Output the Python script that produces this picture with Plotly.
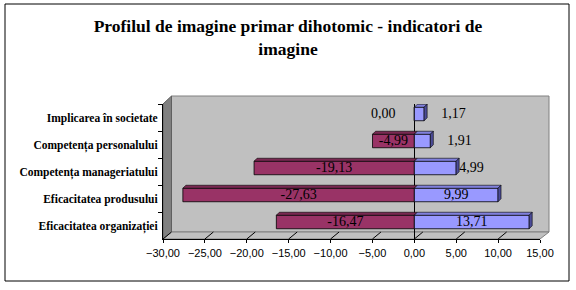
import plotly.graph_objects as go

# ---- data ----
categories = ["Eficacitatea organizației", "Eficacitatea produsului",
              "Competența manageriatului", "Competența personalului",
              "Implicarea în societate"]
neg_values = [-16.47, -27.63, -19.13, -4.99, 0.00]
pos_values = [13.71, 9.99, 4.99, 1.91, 1.17]
x_ticks = [-30, -25, -20, -15, -10, -5, 0, 5, 10, 15]
back_grid = [-25, -20, -15, -10, -5, 5, 10]
title_text = "Profilul de imagine primar dihotomic - indicatori de<br>imagine"

# ---- geometry helpers (pixel -> paper) ----
W, H = 576, 290
def px(x):
    return x / W
def py(y):
    return 1 - y / H

# front plane and back wall (pixels)
FX0, FX1, FY0, FY1 = 163, 540, 104, 239
BX0, BX1, BY0, BY1 = 171.5, 549, 96, 232
XMIN, XMAX = -30, 15

ux = (FX1 - FX0) / (XMAX - XMIN)          # px per unit on front axis
uy = (FY1 - FY0) / len(categories)        # px per category
DX = 3 / ux                               # bar depth in x units
DY = 3 / uy                               # bar depth in category units
BW = 0.5
BOFF = -0.12

NEG_FACE = "#993366"
NEG_TOP = "#7a2952"
POS_FACE = "#9999ff"
POS_TOP = "#8080dd"
POS_SIDE = "#4c4c99"
LABEL_FONT = dict(family="Liberation Serif", size=14, color="#000000")

fig = go.Figure()

NB = "\u00a0"
fig.add_trace(go.Bar(
    y=categories, x=neg_values, orientation="h", name="Negativ",
    xaxis="x2", yaxis="y2",
    width=BW, offset=BOFF,
    marker=dict(color=NEG_FACE, line=dict(color="#000000", width=0.8)),
    texttemplate="%{x:.2f}",
    textposition=["inside", "inside", "inside", "inside", "none"],
    insidetextanchor="middle", constraintext="none", cliponaxis=False,
    textfont=LABEL_FONT,
    hoverinfo="x+y",
))
fig.add_trace(go.Bar(
    y=categories, x=pos_values, orientation="h", name="Pozitiv",
    xaxis="x2", yaxis="y2",
    width=BW, offset=BOFF,
    marker=dict(color=POS_FACE, line=dict(color="#000000", width=0.8)),
    texttemplate=["%{x:.2f}", "%{x:.2f}", "%{x:.2f}",
                  NB * 4 + "%{x:.2f}", NB * 4 + "%{x:.2f}"],
    textposition=["inside", "inside", "outside", "outside", "outside"],
    insidetextanchor="middle", constraintext="none", cliponaxis=False,
    textfont=LABEL_FONT,
    hoverinfo="x+y",
))

# label for the zero-length negative bar (placed to its left, as in Excel)
annotations = []
for i, nv in enumerate(neg_values):
    if nv == 0:
        annotations.append(dict(x=nv, y=i + BOFF + BW / 2, xref="x2", yref="y2",
                                text=f"{nv:.2f}".replace(".", ","), showarrow=False,
                                xanchor="right", xshift=-16, font=LABEL_FONT))

shapes = []
# chart frame
shapes.append(dict(type="rect", xref="paper", yref="paper",
                   x0=px(5), x1=px(569), y0=py(281), y1=py(4),
                   line=dict(color="#000000", width=1), layer="below"))
# back wall
shapes.append(dict(type="rect", xref="paper", yref="paper",
                   x0=px(BX0), x1=px(BX1), y0=py(BY1), y1=py(BY0),
                   fillcolor="#c0c0c0", line=dict(color="#808080", width=1),
                   layer="below"))
# left wall
shapes.append(dict(type="path", xref="paper", yref="paper",
                   path=f"M{px(FX0)},{py(FY0)} L{px(BX0)},{py(BY0)} "
                        f"L{px(BX0)},{py(BY1)} L{px(FX0)},{py(FY1)} Z",
                   fillcolor="#808080", line=dict(color="#606060", width=1),
                   layer="below"))
# floor
shapes.append(dict(type="path", xref="paper", yref="paper",
                   path=f"M{px(FX0)},{py(FY1)} L{px(BX0)},{py(BY1)} "
                        f"L{px(BX1)},{py(BY1)} L{px(FX1)},{py(FY1)} Z",
                   fillcolor="#c0c0c0", line=dict(color="#808080", width=1),
                   layer="below"))
# floor diagonals at tick values
for v in x_ticks:
    shapes.append(dict(type="line", xref="x2", yref="paper",
                       x0=v, y0=py(FY1), x1=v + 8.5 / ux, y1=py(BY1),
                       line=dict(color="#000000", width=1), layer="above"))

# 3D faces of bars (computed from data values)
for i, (nv, pv) in enumerate(zip(neg_values, pos_values)):
    yb = i + BOFF
    yt = i + BOFF + BW
    if nv < 0:
        shapes.append(dict(type="path", xref="x2", yref="y2",
                           path=f"M{nv},{yt} L{nv + DX},{yt + DY} L{DX},{yt + DY} L0,{yt} Z",
                           fillcolor=NEG_TOP, line=dict(color="#000000", width=0.6),
                           layer="above"))
    shapes.append(dict(type="path", xref="x2", yref="y2",
                       path=f"M0,{yt} L{DX},{yt + DY} L{pv + DX},{yt + DY} L{pv},{yt} Z",
                       fillcolor=POS_TOP, line=dict(color="#000000", width=0.6),
                       layer="above"))
    shapes.append(dict(type="path", xref="x2", yref="y2",
                       path=f"M{pv},{yt} L{pv + DX},{yt + DY} L{pv + DX},{yb + DY} L{pv},{yb} Z",
                       fillcolor=POS_SIDE, line=dict(color="#000000", width=0.6),
                       layer="above"))

fig.update_layout(
    width=W, height=H, autosize=False,
    margin=dict(l=0, r=0, t=0, b=0, pad=0),
    paper_bgcolor="#ffffff", plot_bgcolor="rgba(0,0,0,0)",
    separators=", ",
    barmode="overlay",
    showlegend=False,
    title=dict(text=title_text, x=0.5, xanchor="center", xref="paper",
               y=py(32), yanchor="top", yref="paper", automargin=False,
               font=dict(family="Liberation Serif", size=17.5, color="#000000",
                         weight="bold")),
    xaxis=dict(domain=[px(BX0), px(BX1)], range=[XMIN, XMAX], anchor="y",
               tickvals=back_grid, showticklabels=False, ticks="",
               showgrid=True, gridcolor="#000000", gridwidth=1,
               zeroline=False, showline=False, fixedrange=True, automargin=False),
    yaxis=dict(domain=[py(BY1), py(BY0)], range=[0, 1], anchor="x",
               showticklabels=False, showgrid=False, zeroline=False,
               showline=False, ticks="", fixedrange=True, automargin=False),
    xaxis2=dict(domain=[px(FX0), px(FX1)], range=[XMIN, XMAX], anchor="y2",
                tickvals=x_ticks, tickformat=".2f",
                tickfont=dict(family="Liberation Sans", size=11, color="#000000"),
                ticks="outside", ticklen=3, tickcolor="#000000",
                ticklabelstandoff=1,
                showgrid=False, showline=True, linecolor="#000000", linewidth=1,
                zeroline=True, zerolinecolor="#000000", zerolinewidth=1,
                fixedrange=True, automargin=False),
    yaxis2=dict(domain=[py(FY1), py(FY0)], anchor="x2", type="category",
                range=[-0.5, len(categories) - 0.5],
                tickfont=dict(family="Liberation Serif", size=11.5, color="#000000",
                              weight="bold"),
                ticks="outside", ticklen=4, tickcolor="#000000", tickson="boundaries",
                ticklabelstandoff=2,
                showgrid=False, showline=True, linecolor="#000000", linewidth=1,
                zeroline=False, fixedrange=True, automargin=False),
    shapes=shapes,
    annotations=annotations,
)

fig.write_html("out.html")
